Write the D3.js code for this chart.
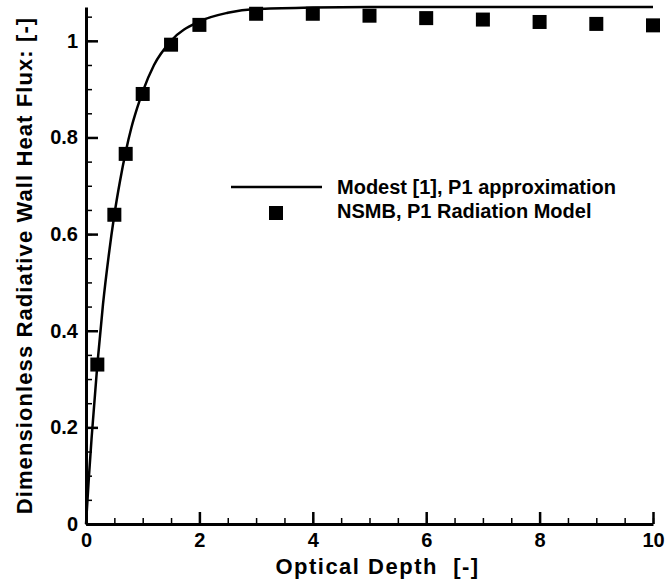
<!DOCTYPE html>
<html>
<head>
<meta charset="utf-8">
<script src="https://cdn.jsdelivr.net/npm/d3@7"></script>
<style>
  body { margin: 0; background: #fff; }
  text { font-family: "Liberation Sans", Arial, sans-serif; font-weight: bold; fill: #000; white-space: pre; }
</style>
</head>
<body>
<div id="chart"></div>
<script>
// P1 approximation curve (Modest)
var modestDepth = [0, 0.05, 0.1, 0.2, 0.3, 0.4, 0.5, 0.6, 0.7, 0.8, 0.9, 1.0, 1.2, 1.5, 2.0, 2.5, 3.0, 4.0, 5.0, 6.0, 8.0, 10.0];
var modestFlux  = [0, 0.095, 0.18, 0.33, 0.455, 0.555, 0.64, 0.71, 0.77, 0.82, 0.86, 0.895, 0.95, 1.0, 1.04, 1.058, 1.066, 1.069, 1.07, 1.07, 1.07, 1.07];

// NSMB, P1 radiation model points
var nsmbDepth = [0.2, 0.5, 0.7, 1.0, 1.5, 2, 3, 4, 5, 6, 7, 8, 9, 10];
var nsmbFlux  = [0.33, 0.64, 0.766, 0.89, 0.992, 1.033, 1.056, 1.056, 1.052, 1.047, 1.044, 1.039, 1.035, 1.032];

var xTicks = [0, 2, 4, 6, 8, 10];
var yTicks = [0, 0.2, 0.4, 0.6, 0.8, 1];
var legendLabels = ["Modest [1], P1 approximation", "NSMB, P1 Radiation Model"];

var width = 666, height = 582;
var margin = {top: 7, right: 13, bottom: 58, left: 86};

var xScale = d3.scaleLinear()
    .domain([0, 10])
    .range([margin.left, width - margin.right]);

var yScale = d3.scaleLinear()
    .domain([0, 1.07])
    .range([height - margin.bottom, margin.top]);

var svg = d3.select('#chart').append('svg')
    .attr('width', width)
    .attr('height', height);

// minor ticks first, then major axes on top
var xMinor = d3.range(0, 10.01, 0.5);
var yMinor = d3.range(0, 1.071, 0.05);

svg.append('g')
    .attr('transform', 'translate(0,' + yScale(0) + ')')
    .call(d3.axisBottom(xScale).tickValues(xMinor).tickSize(-6).tickFormat(''))
    .call(function(g) { g.select('.domain').remove(); })
    .selectAll('line').attr('stroke-width', 1.5);

svg.append('g')
    .attr('transform', 'translate(' + xScale(0) + ',0)')
    .call(d3.axisLeft(yScale).tickValues(yMinor).tickSize(-6).tickFormat(''))
    .call(function(g) { g.select('.domain').remove(); })
    .selectAll('line').attr('stroke-width', 1.5);

var xAxis = svg.append('g')
    .attr('transform', 'translate(0,' + yScale(0) + ')')
    .call(d3.axisBottom(xScale).tickValues(xTicks).tickSize(-12).tickSizeOuter(0).tickFormat(d3.format('d')));
xAxis.select('.domain').attr('stroke-width', 3);
xAxis.selectAll('line').attr('stroke-width', 2.5);
xAxis.selectAll('text').attr('font-size', 20).attr('dy', 0).attr('y', 23);

var yAxis = svg.append('g')
    .attr('transform', 'translate(' + xScale(0) + ',0)')
    .call(d3.axisLeft(yScale).tickValues(yTicks).tickSize(-12).tickSizeOuter(0).tickPadding(8).tickFormat(function(d) { return d === 0 || d === 1 ? d : d.toFixed(1); }));
yAxis.select('.domain').attr('stroke-width', 3);
yAxis.selectAll('line').attr('stroke-width', 2.5);
yAxis.selectAll('text').attr('font-size', 20);

// axis titles
svg.append('text')
    .attr('x', (xScale(0) + xScale(10)) / 2 + 8)
    .attr('y', 574)
    .attr('text-anchor', 'middle')
    .attr('font-size', 22)
    .attr('letter-spacing', 1.5)
    .text('Optical Depth  [-]');

svg.append('text')
    .attr('transform', 'translate(32,' + (yScale(0) + yScale(1.07)) / 2 + ') rotate(-90)')
    .attr('text-anchor', 'middle')
    .attr('font-size', 22)
    .attr('letter-spacing', 1.1)
    .text('Dimensionless Radiative Wall Heat Flux: [-]');

// curve
var line = d3.line()
    .x(function(d, i) { return xScale(modestDepth[i]); })
    .y(function(d, i) { return yScale(modestFlux[i]); })
    .curve(d3.curveMonotoneX);

svg.append('path')
    .attr('fill', 'none')
    .attr('stroke', '#000')
    .attr('stroke-width', 2.5)
    .attr('d', line(modestDepth));

// squares
var sq = 14;
svg.selectAll('rect.pt')
    .data(nsmbDepth)
    .enter().append('rect')
    .attr('class', 'pt')
    .attr('x', function(d) { return xScale(d) - sq / 2; })
    .attr('y', function(d, i) { return yScale(nsmbFlux[i]) - sq / 2; })
    .attr('width', sq)
    .attr('height', sq)
    .attr('fill', '#000');

// legend
var legend = svg.append('g');
legend.append('line')
    .attr('x1', 231).attr('x2', 322)
    .attr('y1', 187).attr('y2', 187)
    .attr('stroke', '#000').attr('stroke-width', 2.5);
legend.append('rect')
    .attr('x', 276 - sq / 2).attr('y', 213 - sq / 2)
    .attr('width', sq).attr('height', sq)
    .attr('fill', '#000');
legend.selectAll('text')
    .data(legendLabels)
    .enter().append('text')
    .attr('x', 337)
    .attr('y', function(d, i) { return 194 + i * 24; })
    .attr('font-size', 20)
    .text(function(d) { return d; });
</script>
</body>
</html>
